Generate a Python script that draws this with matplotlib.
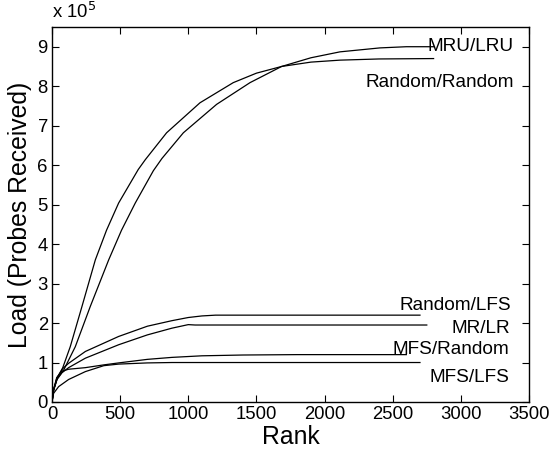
import matplotlib
matplotlib.use("Agg")
import matplotlib.pyplot as plt

plt.rcParams['font.family'] = ['Liberation Sans', 'DejaVu Sans']

# Load values in units of 1e5 probes received
mru_rank = [0, 12, 40, 86, 171, 281, 416, 510, 611, 744, 807, 964, 1208, 1453, 1685, 1900, 2113, 2406, 2600, 2800]
mru_load = [0, 0.30, 0.60, 0.81, 1.40, 2.42, 3.60, 4.35, 5.04, 5.86, 6.17, 6.82, 7.54, 8.09, 8.50, 8.72, 8.87, 8.97, 9.0, 9.0]

rr_rank = [0, 12, 40, 73, 134, 220, 318, 400, 489, 633, 685, 841, 1086, 1330, 1500, 1685, 1900, 2113, 2400, 2800]
rr_load = [0, 0.32, 0.62, 0.81, 1.40, 2.42, 3.60, 4.35, 5.04, 5.89, 6.14, 6.82, 7.58, 8.09, 8.33, 8.50, 8.61, 8.66, 8.69, 8.70]

rlfs_rank = [0, 12, 35, 73, 122, 245, 489, 700, 880, 1000, 1100, 1200, 2700]
rlfs_load = [0, 0.30, 0.60, 0.83, 0.98, 1.28, 1.66, 1.92, 2.06, 2.14, 2.18, 2.20, 2.20]

mrlr_rank = [0, 12, 35, 73, 122, 245, 489, 700, 880, 1000, 1050, 2750]
mrlr_load = [0, 0.30, 0.56, 0.74, 0.87, 1.11, 1.45, 1.70, 1.87, 1.96, 1.95, 1.95]

mfsr_rank = [0, 12, 35, 73, 122, 245, 380, 489, 700, 880, 1100, 1400, 1800, 2600]
mfsr_load = [0, 0.32, 0.62, 0.78, 0.83, 0.87, 0.94, 0.99, 1.08, 1.13, 1.17, 1.19, 1.20, 1.20]

mfsl_rank = [0, 12, 49, 122, 245, 380, 489, 700, 880, 2700]
mfsl_load = [0, 0.22, 0.39, 0.57, 0.77, 0.92, 0.96, 0.99, 1.00, 1.00]

labels = ["MRU/LRU", "Random/Random", "Random/LFS", "MR/LR", "MFS/Random", "MFS/LFS"]
label_x = [3390, 3390, 3370, 3365, 3355, 3355]
label_y = [9.0, 8.1, 2.44, 1.85, 1.32, 0.63]

x_ticks = [0, 500, 1000, 1500, 2000, 2500, 3000, 3500]
y_ticks = [0, 1, 2, 3, 4, 5, 6, 7, 8, 9]

fig = plt.figure(figsize=(5.53, 4.55), dpi=100)
ax = fig.add_axes([0.094, 0.1165, 0.8626, 0.8242])

for xr, yl in [(mru_rank, mru_load), (rr_rank, rr_load), (rlfs_rank, rlfs_load),
               (mrlr_rank, mrlr_load), (mfsr_rank, mfsr_load), (mfsl_rank, mfsl_load)]:
    ax.plot(xr, yl, color='black', lw=0.9)

for t, xx, yy in zip(labels, label_x, label_y):
    ax.text(xx, yy, t, ha='right', va='center', fontsize=13.7)

ax.set_xlim(0, 3500)
ax.set_ylim(0, 9.5)
ax.set_xticks(x_ticks)
ax.set_yticks(y_ticks)
ax.tick_params(direction='in', top=True, right=True, length=5, width=0.8, labelsize=13.3, pad=3)
for s in ax.spines.values():
    s.set_linewidth(1.0)
ax.set_xlabel("Rank", fontsize=17.8, labelpad=1)
ax.set_ylabel("Load (Probes Received)", fontsize=17.8, labelpad=4)
ax.text(0.0, 1.012, r"x 10$^{5}$", transform=ax.transAxes, ha='left', va='bottom', fontsize=13.3)

fig.savefig("out.png", dpi=100)
